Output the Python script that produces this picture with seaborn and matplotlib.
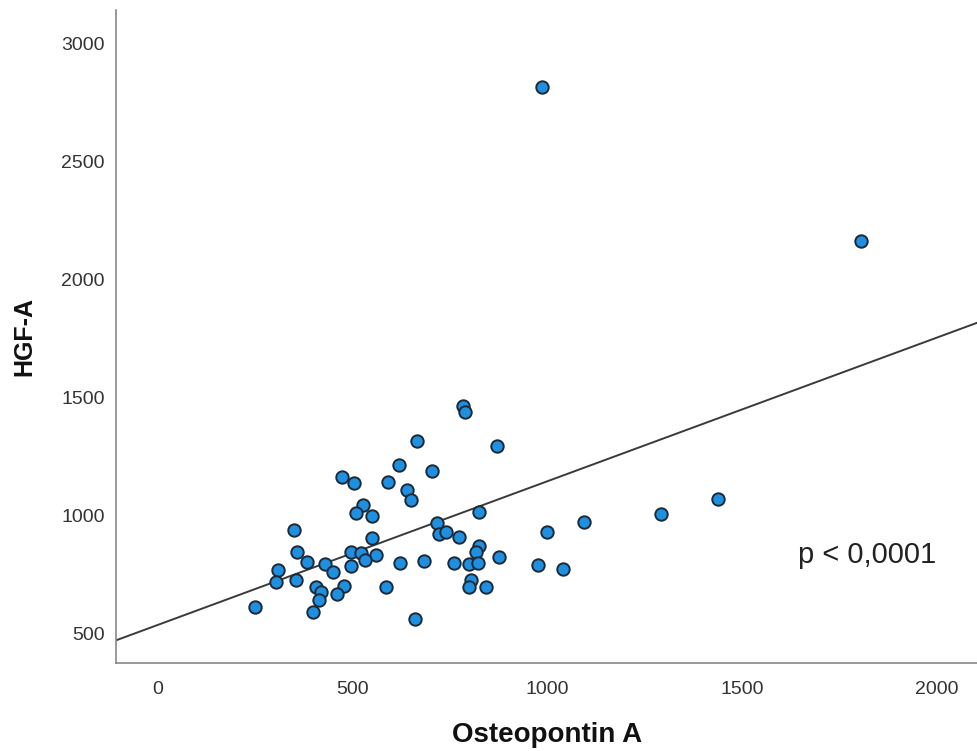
import numpy as np
import pandas as pd
import matplotlib
matplotlib.use("Agg")
import matplotlib.pyplot as plt
import seaborn as sns

osteopontin_a = [665, 619, 703, 472, 503, 590, 639, 650, 526, 508,
                 549, 716, 721, 739, 773, 349, 549, 357, 383, 308,
                 429, 496, 521, 560, 531, 449, 496, 621, 683, 303,
                 354, 406, 418, 478, 460, 413, 585, 249, 398, 660,
                 783, 788, 870, 824, 824, 816, 875, 760, 798, 822,
                 976, 1040, 804, 798, 842, 999, 1094, 1291, 1438, 986,
                 1805]
hgf_a = [1318, 1216, 1191, 1165, 1140, 1144, 1110, 1068, 1047, 1013,
         1000, 970, 924, 932, 911, 941, 907, 847, 805, 771,
         797, 847, 843, 835, 814, 763, 788, 801, 809, 720,
         729, 699, 678, 703, 669, 644, 699, 614, 593, 564,
         1466, 1441, 1297, 1017, 873, 847, 826, 801, 797, 801,
         792, 775, 729, 699, 699, 932, 975, 1008, 1072, 2818,
         2165]
x_ticks = [0, 500, 1000, 1500, 2000]
y_ticks = [500, 1000, 1500, 2000, 2500, 3000]
annotation = "p < 0,0001"

df = pd.DataFrame({"Osteopontin A": osteopontin_a, "HGF-A": hgf_a})

sns.set_style("white")
plt.rcParams["font.family"] = ["Liberation Sans", "DejaVu Sans"]

fig = plt.figure(figsize=(9.78, 7.51), dpi=100)
ax = fig.add_axes([116/978, 88/751, 1 - 116/978, (663-10)/751])
ax.set_xlim(-108, 2105)
ax.set_ylim(377, 3144)

sns.regplot(data=df, x="Osteopontin A", y="HGF-A", ax=ax, ci=None,
            truncate=False,
            scatter_kws=dict(s=80, color="#1f8fe0", edgecolor="#1c2a38",
                             linewidths=1.4, alpha=1, zorder=3),
            line_kws=dict(color="#3a3a3a", lw=1.4, zorder=2))

ax.set_xlim(-108, 2105)
ax.set_ylim(377, 3144)
ax.set_xticks(x_ticks)
ax.set_yticks(y_ticks)
ax.tick_params(axis="both", length=0, labelsize=14, labelcolor="#333333")
ax.tick_params(axis="x", pad=13)
ax.tick_params(axis="y", pad=8)
for s in ["top", "right"]:
    ax.spines[s].set_visible(False)
for s in ["left", "bottom"]:
    ax.spines[s].set_color("#888888")
    ax.spines[s].set_linewidth(1.2)

ax.set_xlabel("Osteopontin A", fontsize=20, fontweight="bold", color="#111111", labelpad=17)
ax.set_ylabel("HGF-A", fontsize=18, fontweight="bold", color="#111111", labelpad=18)

ax.text(0.871, 0.165, annotation, transform=ax.transAxes, ha="center", va="center",
        fontsize=21, color="#222222")

fig.savefig("out.png", dpi=100)
